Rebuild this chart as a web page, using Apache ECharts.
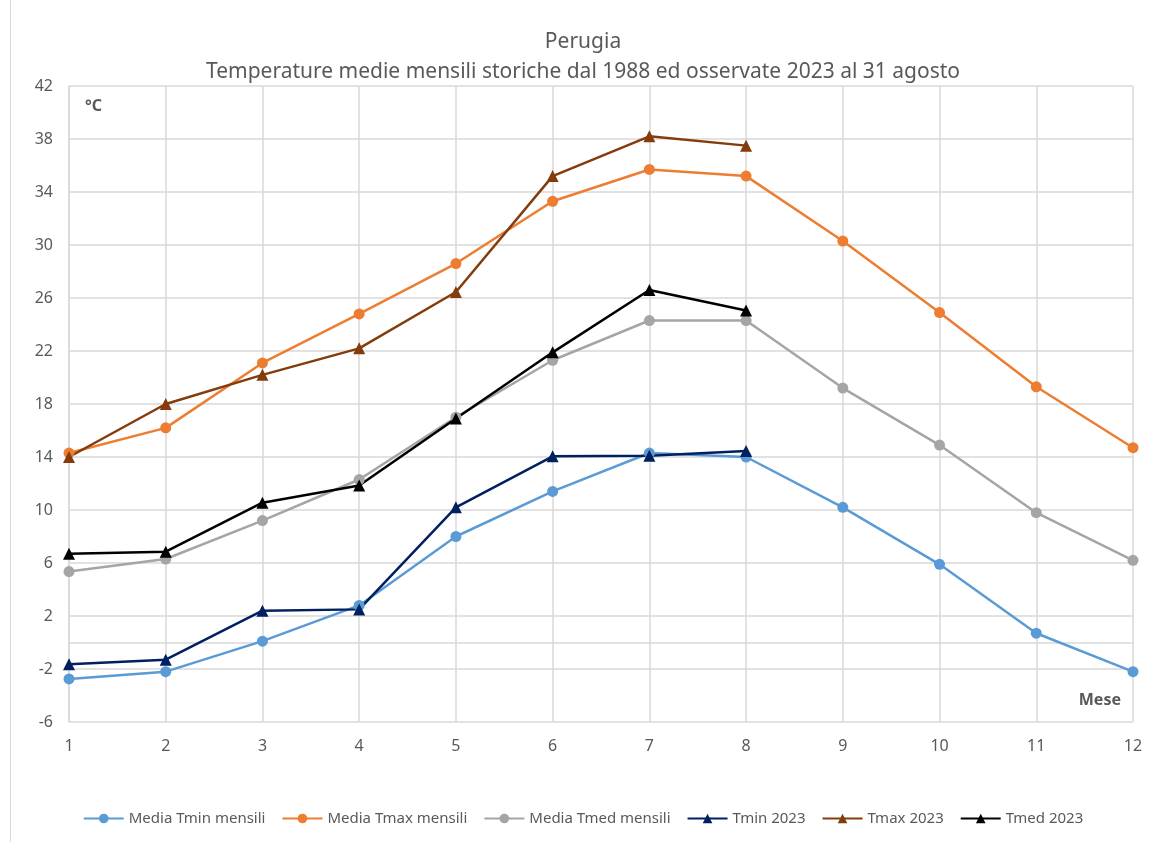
<!DOCTYPE html>
<html>
<head>
<meta charset="utf-8">
<script src="https://cdn.jsdelivr.net/npm/echarts@6/dist/echarts.min.js"></script>
<style>
  html, body { margin: 0; padding: 0; background: #fff; }
  #chart { position: absolute; left: 10px; top: 0; width: 1145px; height: 842px; border-left: 1px solid #d9d9d9; box-sizing: border-box; }
</style>
</head>
<body>
<div id="chart"></div>
<script>
const months = ['1', '2', '3', '4', '5', '6', '7', '8', '9', '10', '11', '12']
const mediaTmin = [-2.75, -2.2, 0.1, 2.8, 8.0, 11.4, 14.3, 14.0, 10.2, 5.9, 0.7, -2.2]
const mediaTmax = [14.3, 16.2, 21.1, 24.8, 28.6, 33.3, 35.7, 35.2, 30.3, 24.9, 19.3, 14.7]
const mediaTmed = [5.35, 6.3, 9.2, 12.3, 17.0, 21.3, 24.3, 24.3, 19.2, 14.9, 9.8, 6.2]
const tmin2023 = [-1.65, -1.3, 2.4, 2.5, 10.2, 14.05, 14.1, 14.45]
const tmax2023 = [14.0, 18.0, 20.2, 22.2, 26.45, 35.2, 38.2, 37.5]
const tmed2023 = [6.7, 6.85, 10.55, 11.85, 16.9, 21.9, 26.6, 25.05]

const chart = echarts.init(document.getElementById('chart'))
const txt = '#595959'
const font = 'Noto Sans'

function mk (name, data, color, symbol, size) {
  return {
    name: name,
    type: 'line',
    data: data,
    symbol: symbol,
    symbolSize: size,
    lineStyle: { color: color, width: 2.5 },
    itemStyle: { color: color },
    emphasis: { disabled: true }
  }
}

chart.setOption({
  animation: false,
  textStyle: { fontFamily: font },
  title: {
    text: 'Perugia\nTemperature medie mensili storiche dal 1988 ed osservate 2023 al 31 agosto',
    left: 'center',
    top: 22,
    textStyle: { color: txt, fontSize: 21, fontWeight: 'normal', lineHeight: 30, fontFamily: font }
  },
  legend: {
    bottom: 11,
    left: 'center',
    itemWidth: 40,
    itemHeight: 12,
    itemGap: 16,
    textStyle: { color: txt, fontSize: 15, fontFamily: font },
    data: ['Media Tmin mensili', 'Media Tmax mensili', 'Media Tmed mensili', 'Tmin 2023', 'Tmax 2023', 'Tmed 2023']
  },
  grid: { left: 58, right: 22, top: 86, bottom: 120 },
  xAxis: {
    type: 'category',
    data: months,
    boundaryGap: false,
    axisLine: { lineStyle: { color: '#d9d9d9', width: 1.5 } },
    axisTick: { show: false },
    axisLabel: { color: txt, fontSize: 16, margin: 16 },
    splitLine: { show: true, lineStyle: { color: '#d9d9d9', width: 1.5 } }
  },
  yAxis: {
    type: 'value',
    min: -6,
    max: 42,
    interval: 4,
    axisLine: { show: true, lineStyle: { color: '#d9d9d9', width: 1.5 } },
    axisTick: { show: false },
    axisLabel: { color: txt, fontSize: 16, margin: 16 },
    splitLine: { lineStyle: { color: '#d9d9d9', width: 1.5 } }
  },
  graphic: [
    { type: 'text', left: 74, top: 98, style: { text: '°C', fill: txt, font: 'bold 16px "Noto Sans"' } },
    { type: 'text', right: 34, top: 692, style: { text: 'Mese', fill: txt, font: 'bold 16px "Noto Sans"' } }
  ],
  series: [
    mk('Media Tmin mensili', mediaTmin, '#5b9bd5', 'circle', 11),
    mk('Media Tmax mensili', mediaTmax, '#ed7d31', 'circle', 11),
    mk('Media Tmed mensili', mediaTmed, '#a5a5a5', 'circle', 11),
    mk('Tmin 2023', tmin2023, '#002060', 'triangle', 12),
    mk('Tmax 2023', tmax2023, '#843c0c', 'triangle', 12),
    mk('Tmed 2023', tmed2023, '#000000', 'triangle', 12)
  ]
})
</script>
</body>
</html>
